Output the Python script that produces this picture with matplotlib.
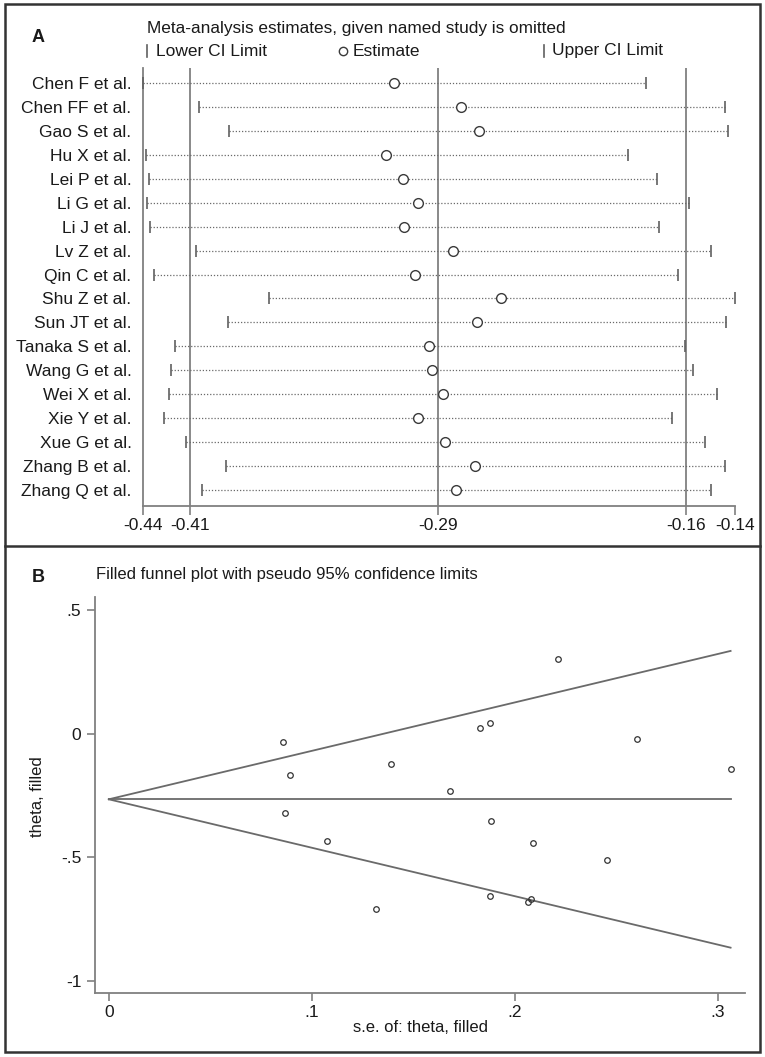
import matplotlib
matplotlib.use('Agg')
import matplotlib.pyplot as plt
from matplotlib.lines import Line2D
from matplotlib.patches import Rectangle
import numpy as np

plt.rcParams['font.family'] = ['Liberation Sans', 'DejaVu Sans']

# ---- panel A data: leave-one-out estimates ----
studies = ['Chen F et al.', 'Chen FF et al.', 'Gao S et al.', 'Hu X et al.', 'Lei P et al.',
           'Li G et al.', 'Li J et al.', 'Lv Z et al.', 'Qin C et al.', 'Shu Z et al.',
           'Sun JT et al.', 'Tanaka S et al.', 'Wang G et al.', 'Wei X et al.', 'Xie Y et al.',
           'Xue G et al.', 'Zhang B et al.', 'Zhang Q et al.']
lower = [-0.4400, -0.4113, -0.3962, -0.4385, -0.4368, -0.4378, -0.4365, -0.4128, -0.4343,
         -0.3761, -0.3969, -0.4237, -0.4259, -0.4266, -0.4294, -0.4180, -0.3979, -0.4101]
estimate = [-0.3128, -0.2786, -0.2697, -0.3167, -0.3083, -0.3004, -0.3076, -0.2828, -0.3019,
            -0.2583, -0.2707, -0.2950, -0.2937, -0.2878, -0.3006, -0.2868, -0.2717, -0.2811]
upper = [-0.1853, -0.1452, -0.1437, -0.1942, -0.1796, -0.1635, -0.1786, -0.1524, -0.1690,
         -0.1400, -0.1447, -0.1655, -0.1613, -0.1489, -0.1717, -0.1551, -0.1450, -0.1521]
overall = [-0.4158, -0.2903, -0.1648]   # combined lower CI, estimate, upper CI
a_ticks = [-0.44, -0.4158, -0.2903, -0.1648, -0.14]
a_ticklabels = ['-0.44', '-0.41', '-0.29', '-0.16', '-0.14']

# ---- panel B data: funnel plot ----
se = [0.0857, 0.0893, 0.0869, 0.1074, 0.1315, 0.1388, 0.1682, 0.1830, 0.1880,
      0.1885, 0.1878, 0.2088, 0.2066, 0.2081, 0.2211, 0.2452, 0.2604, 0.3063]
theta = [-0.035, -0.166, -0.322, -0.436, -0.709, -0.123, -0.234, 0.022, 0.043,
         -0.355, -0.659, -0.441, -0.680, -0.668, 0.303, -0.511, -0.020, -0.142]
pooled_theta = -0.266

W, H = 765, 1057
fig = plt.figure(figsize=(W / 100, H / 100), dpi=100)

def rect(left, top, right, bottom):
    # pixel box -> figure fraction rect
    return [left / W, 1 - bottom / H, (right - left) / W, (bottom - top) / H]

def fx(x):
    return x / W

def fy(y):
    return 1 - y / H

txt = '#1a1a1a'
grey = '#808080'

# ---------------- panel A ----------------
axA = fig.add_axes(rect(142.7, 68, 735, 506))
n = len(studies)
rows = np.arange(n)
for i in range(n):
    axA.plot([lower[i], upper[i]], [i, i], color='#6a6a6a', lw=0.9,
             linestyle=(0, (1, 1.5)), zorder=2)
axA.plot(lower, rows, linestyle='none', marker='|', ms=9, mew=1.2, color='#606060',
         zorder=3, clip_on=False)
axA.plot(upper, rows, linestyle='none', marker='|', ms=9, mew=1.2, color='#606060',
         zorder=3, clip_on=False)
axA.plot(estimate, rows, linestyle='none', marker='o', ms=7, mew=1.0, mfc='white',
         mec='#3a3a3a', zorder=4)
for v in overall:
    axA.axvline(v, color=grey, lw=1.3, zorder=1)

axA.set_xlim(-0.44, -0.14)
axA.set_ylim(n - 1 + 0.668, -0.627)
axA.set_yticks(rows)
axA.set_yticklabels(studies, fontsize=12.5, color=txt)
axA.tick_params(axis='y', length=0, pad=8)
axA.set_xticks(a_ticks)
axA.set_xticklabels(a_ticklabels, fontsize=12.5, color=txt)
axA.tick_params(axis='x', direction='out', length=6.5, width=1.2, color=grey, pad=2)
for s in ['top', 'right']:
    axA.spines[s].set_visible(False)
axA.spines['left'].set_color(grey)
axA.spines['left'].set_linewidth(1.3)
axA.spines['bottom'].set_color(grey)
axA.spines['bottom'].set_linewidth(1.3)

fig.text(fx(38), fy(38), 'A', fontsize=13, fontweight='bold', ha='center', va='center', color=txt)
fig.text(fx(147), fy(28), 'Meta-analysis estimates, given named study is omitted',
         fontsize=12.4, ha='left', va='center', color=txt)
# legend row
fig.add_artist(Line2D([fx(147), fx(147)], [fy(45), fy(57)], color='#606060', lw=1.2))
fig.text(fx(156), fy(51), 'Lower CI Limit', fontsize=12.5, ha='left', va='center', color=txt)
fig.add_artist(Line2D([fx(343)], [fy(51)], marker='o', ms=6, mew=1.0, mfc='white',
                      mec='#3a3a3a', linestyle='none'))
fig.text(fx(353), fy(51), 'Estimate', fontsize=12.5, ha='left', va='center', color=txt)
fig.add_artist(Line2D([fx(544), fx(544)], [fy(45), fy(57)], color='#606060', lw=1.2))
fig.text(fx(552), fy(51), 'Upper CI Limit', fontsize=12.5, ha='left', va='center', color=txt)

# ---------------- panel B ----------------
axB = fig.add_axes(rect(94.6, 597, 745, 993))
se_max = max(se)
se_line = np.array([0, se_max])
axB.plot(se_line, [pooled_theta, pooled_theta], color='#6a6a6a', lw=1.3)
axB.plot(se_line, pooled_theta + 1.96 * se_line, color='#6a6a6a', lw=1.3)
axB.plot(se_line, pooled_theta - 1.96 * se_line, color='#6a6a6a', lw=1.3)
axB.plot(se, theta, linestyle='none', marker='o', ms=4, mew=0.9, mfc='none', mec='#333333')

axB.set_xlim(-0.0070, 0.3134)
axB.set_ylim(-1.0498, 0.5526)
axB.set_xticks([0, 0.1, 0.2, 0.3])
axB.set_xticklabels(['0', '.1', '.2', '.3'], fontsize=12.5, color=txt)
axB.set_yticks([0.5, 0, -0.5, -1])
axB.set_yticklabels(['.5', '0', '-.5', '-1'], fontsize=12.5, color=txt)
axB.tick_params(direction='out', length=5.5, width=1.2, color=grey, pad=3)
axB.tick_params(axis='y', pad=4)
for s in ['top', 'right']:
    axB.spines[s].set_visible(False)
for s in ['left', 'bottom']:
    axB.spines[s].set_color(grey)
    axB.spines[s].set_linewidth(1.3)

fig.text(fx(38), fy(578), 'B', fontsize=13, fontweight='bold', ha='center', va='center', color=txt)
fig.text(fx(95.6), fy(575), 'Filled funnel plot with pseudo 95% confidence limits',
         fontsize=12, ha='left', va='center', color=txt)
fig.text(fx(37), fy(797), 'theta, filled', fontsize=12, rotation=90,
         ha='center', va='center', color=txt)
fig.text(fx(420), fy(1028), 's.e. of: theta, filled', fontsize=12,
         ha='center', va='center', color=txt)

# outer frame and separator
fig.add_artist(Rectangle((fx(5), fy(1052)), fx(755), (1052 - 4) / H, fill=False,
                         edgecolor='#333333', lw=1.8))
fig.add_artist(Line2D([fx(5), fx(760)], [fy(546), fy(546)], color='#333333', lw=1.8))

fig.savefig('out.png', dpi=100)
